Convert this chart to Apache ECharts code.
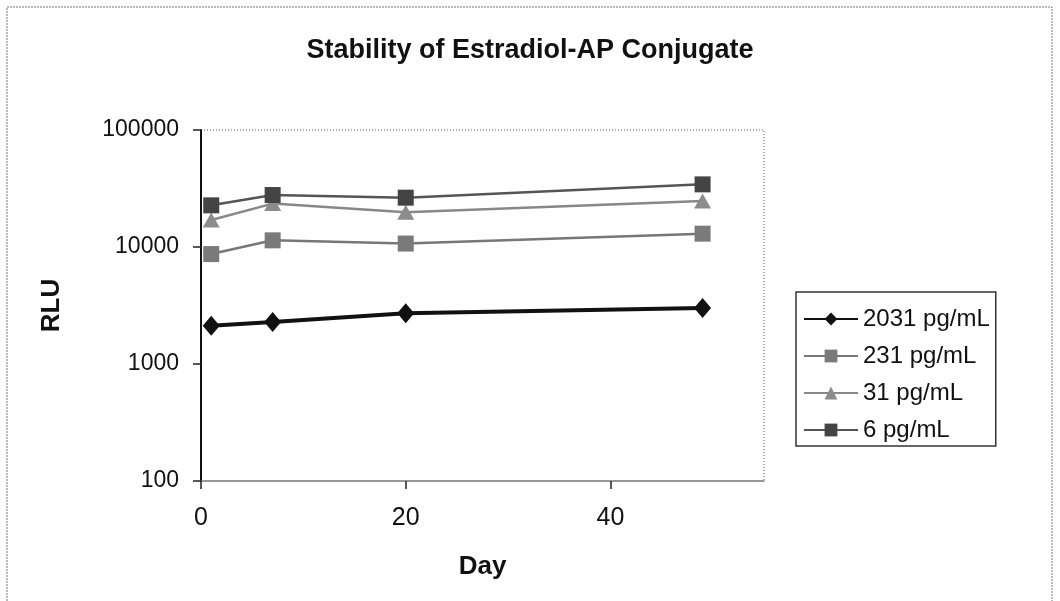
<!DOCTYPE html>
<html>
<head>
<meta charset="utf-8">
<script src="https://cdn.jsdelivr.net/npm/echarts@6/dist/echarts.min.js"></script>
<style>
  html, body { margin: 0; padding: 0; background: #fff; }
  #chart { width: 1060px; height: 601px; }
</style>
</head>
<body>
<div id="chart"></div>
<script>
// data
var days = [1, 7, 20, 49];
var seriesNames = ['2031 pg/mL', '231 pg/mL', '31 pg/mL', '6 pg/mL'];
var rlu2031 = [2120, 2290, 2710, 3010];
var rlu231 = [8700, 11400, 10700, 13000];
var rlu31 = [17000, 23500, 19800, 24700];
var rlu6 = [22700, 27800, 26400, 34300];

function pairs(xs, ys) {
    var out = [];
    for (var i = 0; i < xs.length; i++) {
        out.push([xs[i], ys[i]]);
    }
    return out;
}

var font = 'Liberation Sans, Arial, sans-serif';
var grid = {left: 201, top: 130, width: 563, height: 351};

var chart = echarts.init(document.getElementById('chart'));
chart.setOption({
    animation: false,
    backgroundColor: '#fff',
    title: {
        text: 'Stability of Estradiol-AP Conjugate',
        left: 'center',
        top: 32,
        textStyle: {fontFamily: font, fontSize: 27, fontWeight: 'bold', color: '#111'}
    },
    // outer frame and plot frame (dotted top/right)
    graphic: [
        {
            type: 'rect',
            shape: {x: 7, y: 7, width: 1045, height: 620},
            style: {fill: null, stroke: '#777', lineWidth: 1, lineDash: [2, 1]},
            silent: true
        },
        {
            type: 'polyline',
            shape: {points: [[grid.left, grid.top], [grid.left + grid.width, grid.top], [grid.left + grid.width, grid.top + grid.height]]},
            style: {fill: null, stroke: '#555', lineWidth: 1, lineDash: [1, 2]},
            silent: true
        }
    ],
    grid: grid,
    legend: {
        orient: 'vertical',
        left: 796,
        top: 292,
        padding: [15, 6, 4, 7],
        itemGap: 13,
        itemWidth: 54,
        itemHeight: 16,
        borderColor: '#333',
        borderWidth: 1.5,
        data: seriesNames,
        textStyle: {fontFamily: font, fontSize: 24, color: '#111'}
    },
    xAxis: {
        type: 'value',
        min: 0,
        max: 55,
        interval: 20,
        name: 'Day',
        nameLocation: 'middle',
        nameGap: 73,
        nameTextStyle: {fontFamily: font, fontSize: 26, fontWeight: 'bold', color: '#111'},
        axisLine: {lineStyle: {color: '#777', width: 1.5}},
        axisTick: {length: 8, lineStyle: {color: '#222', width: 1.5}},
        axisLabel: {
            showMaxLabel: false,
            margin: 25,
            fontFamily: font, fontSize: 25, color: '#111'
        },
        splitLine: {show: false}
    },
    yAxis: {
        type: 'log',
        logBase: 10,
        min: 100,
        max: 100000,
        name: 'RLU',
        nameLocation: 'middle',
        nameGap: 136,
        nameTextStyle: {fontFamily: font, fontSize: 26, fontWeight: 'bold', color: '#111'},
        axisLine: {show: true, lineStyle: {color: '#111', width: 2}},
        axisTick: {show: true, length: 8, lineStyle: {color: '#222', width: 1.5}},
        axisLabel: {
            margin: 22,
            fontFamily: font, fontSize: 23, color: '#111',
            formatter: function (v) { return String(Math.round(v)); }
        },
        splitLine: {show: false},
        minorTick: {show: false}
    },
    series: [
        {
            name: seriesNames[0],
            type: 'line',
            data: pairs(days, rlu2031),
            symbol: 'diamond',
            symbolSize: [17, 20],
            lineStyle: {color: '#111', width: 4},
            itemStyle: {color: '#111'}
        },
        {
            name: seriesNames[1],
            type: 'line',
            data: pairs(days, rlu231),
            symbol: 'rect',
            symbolSize: 16,
            lineStyle: {color: '#777', width: 2.5},
            itemStyle: {color: '#7a7a7a'}
        },
        {
            name: seriesNames[2],
            type: 'line',
            data: pairs(days, rlu31),
            symbol: 'triangle',
            symbolSize: [17, 15],
            lineStyle: {color: '#888', width: 2.5},
            itemStyle: {color: '#8c8c8c'}
        },
        {
            name: seriesNames[3],
            type: 'line',
            data: pairs(days, rlu6),
            symbol: 'rect',
            symbolSize: 16,
            lineStyle: {color: '#555', width: 2.5},
            itemStyle: {color: '#444'}
        }
    ]
});
</script>
</body>
</html>
